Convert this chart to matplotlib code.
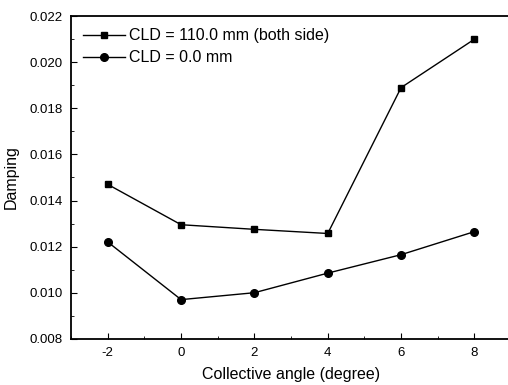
import matplotlib
matplotlib.use("Agg")
import matplotlib.pyplot as plt
from matplotlib.ticker import MultipleLocator

plt.rcParams['font.family'] = ['Liberation Sans', 'DejaVu Sans']
plt.rcParams['axes.unicode_minus'] = False

angle = [-2, 0, 2, 4, 6, 8]
cld_110 = [0.0147, 0.01295, 0.01275, 0.01257, 0.0189, 0.0210]
cld_0 = [0.0122, 0.0097, 0.0100, 0.01085, 0.01165, 0.01265]

fig = plt.figure(figsize=(5.08, 3.85), dpi=100)
ax = fig.add_axes([0.14, 0.12, 0.866, 0.838])

ax.plot(angle, cld_110, color='black', lw=1, marker='s', ms=5,
        label='CLD = 110.0 mm (both side)')
ax.plot(angle, cld_0, color='black', lw=1, marker='o', ms=5.5,
        label='CLD = 0.0 mm')

ax.set_xlim(-3, 9)
ax.set_ylim(0.008, 0.022)
ax.xaxis.set_major_locator(MultipleLocator(2))
ax.xaxis.set_minor_locator(MultipleLocator(1))
ax.yaxis.set_major_locator(MultipleLocator(0.002))
ax.yaxis.set_minor_locator(MultipleLocator(0.001))
ax.yaxis.set_major_formatter(plt.FormatStrFormatter('%.3f'))
ax.tick_params(which='both', direction='in', labelsize=9.5, right=False, top=False)
ax.tick_params(which='major', length=4, pad=6)
ax.tick_params(which='minor', length=2)
ax.spines['right'].set_visible(False)
for s in ['left', 'bottom', 'top']:
    ax.spines[s].set_linewidth(1.3)

ax.set_xlabel('Collective angle (degree)', fontsize=11.5, labelpad=6)
ax.set_ylabel('Damping', fontsize=11.5, labelpad=8)

ax.legend(loc='upper left', frameon=False, fontsize=11.5, handlelength=2.6,
          handletextpad=0.3, borderaxespad=0.3, labelspacing=0.45,
          borderpad=0.45)

fig.savefig('out.png', dpi=100)
